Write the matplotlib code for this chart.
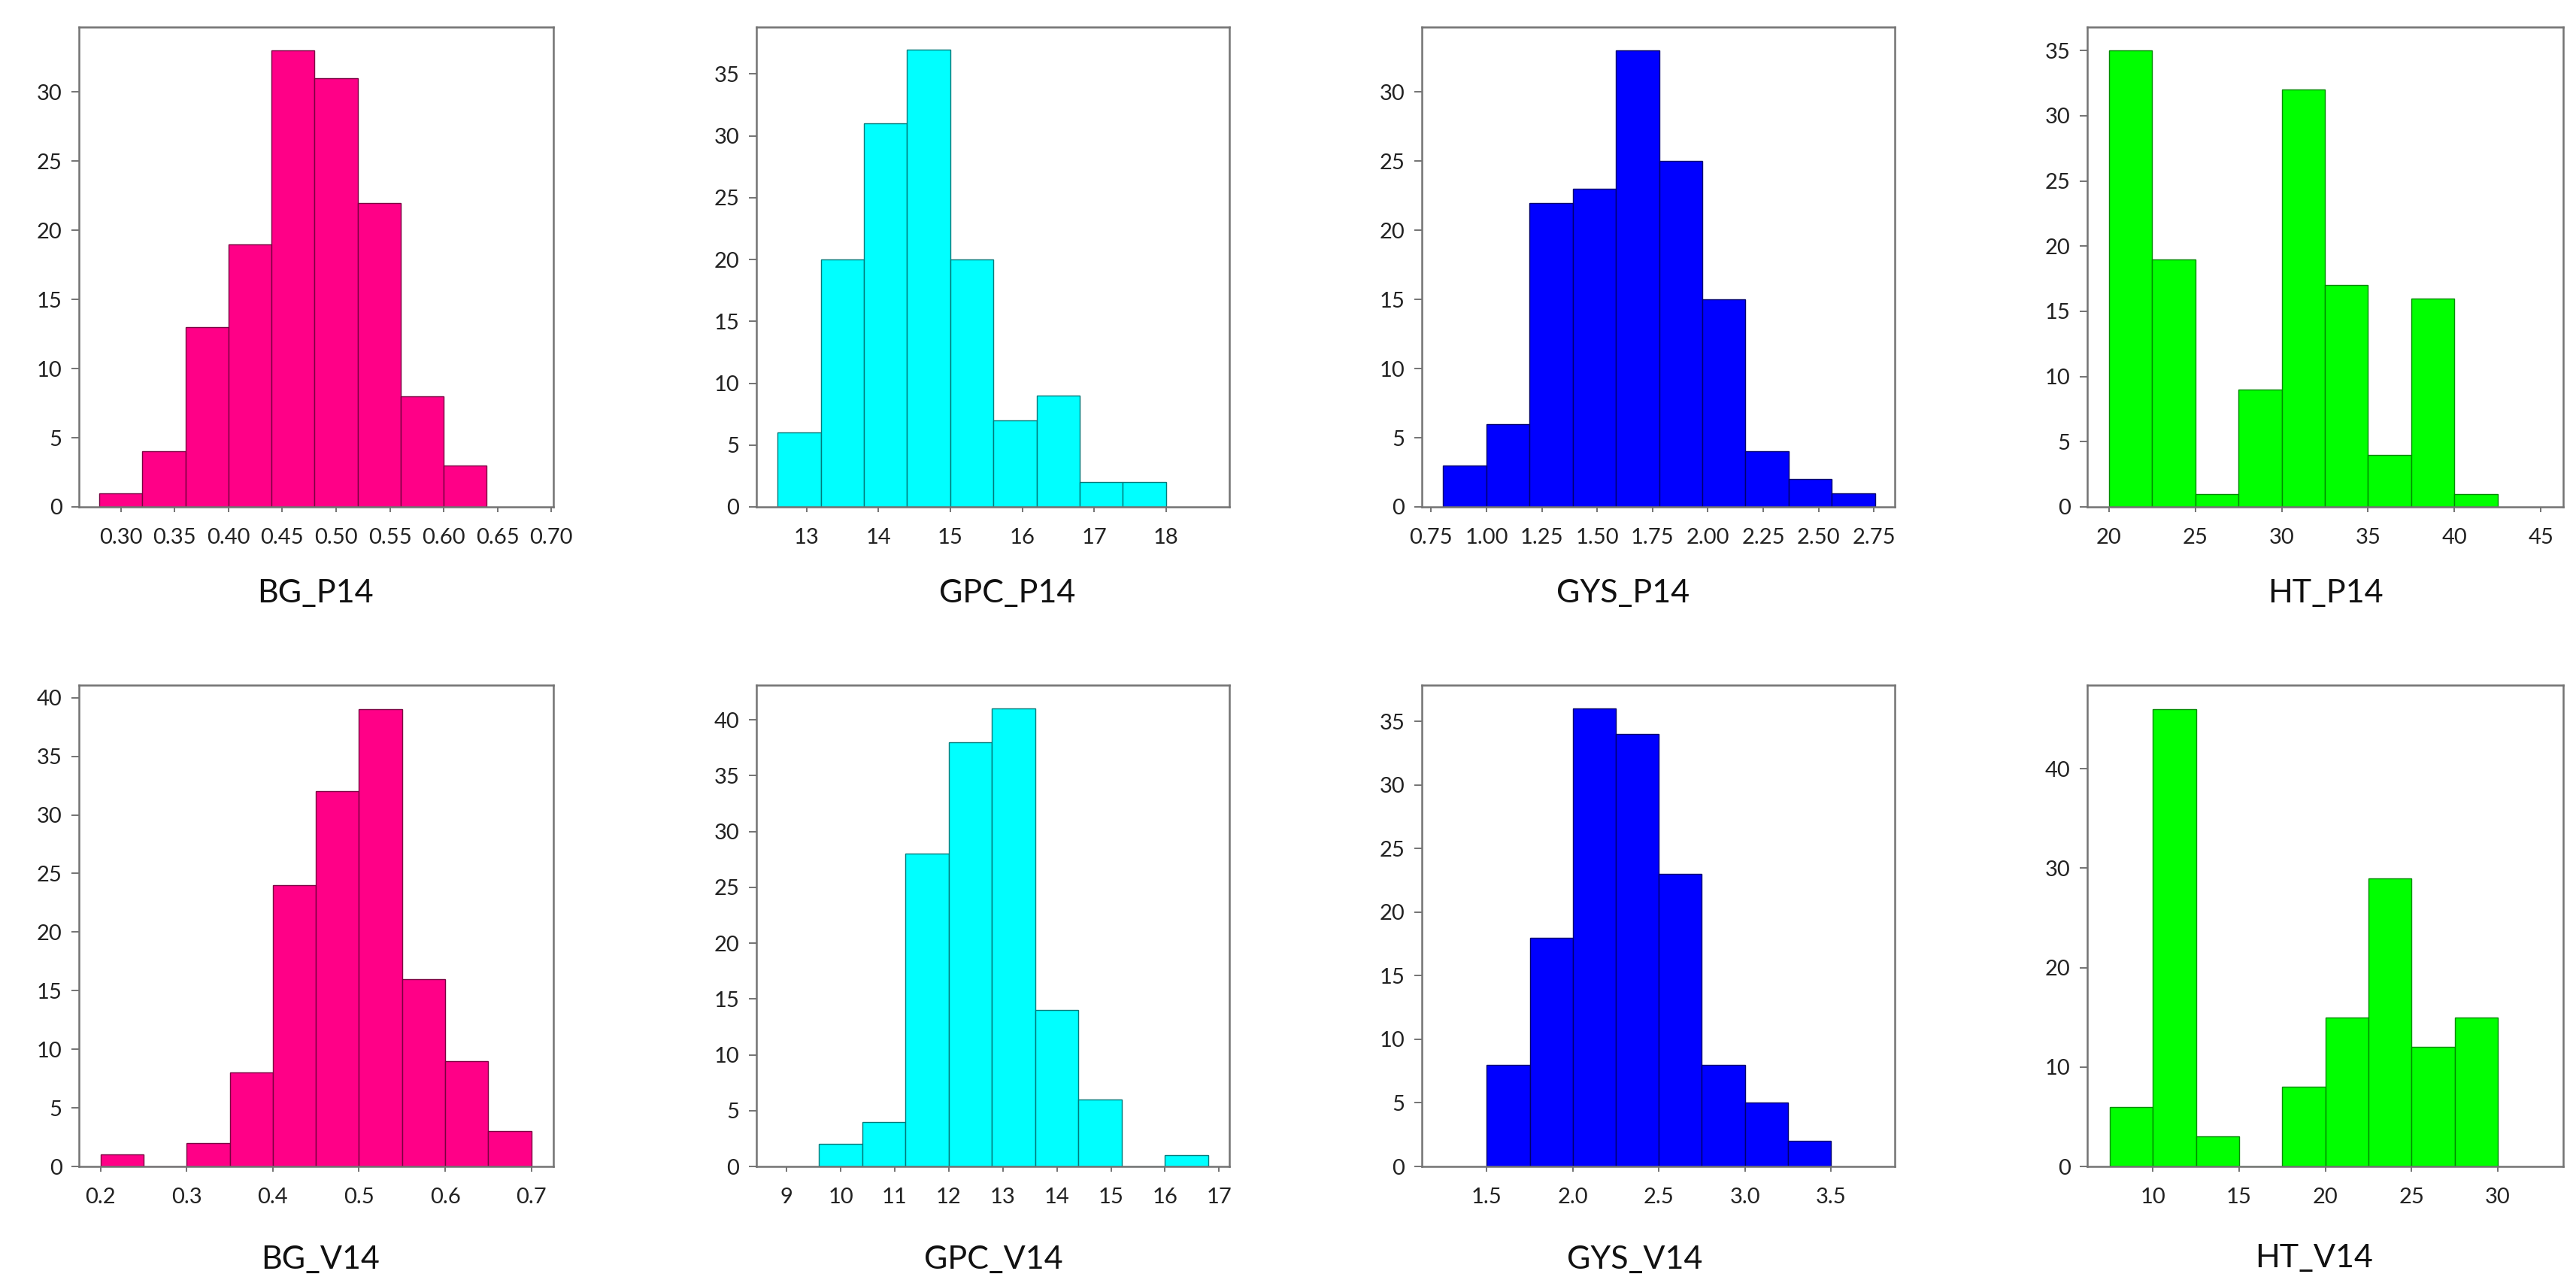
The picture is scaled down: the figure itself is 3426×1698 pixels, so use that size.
import numpy as np
import matplotlib
matplotlib.use("Agg")
import matplotlib.pyplot as plt

plt.rcParams['font.family'] = ['Lato', 'DejaVu Sans']

# ---------------- data (bin edges and counts) ----------------
titles = ["BG_P14", "GPC_P14", "GYS_P14", "HT_P14",
          "BG_V14", "GPC_V14", "GYS_V14", "HT_V14"]

bg_p14_edges = [0.28, 0.32, 0.36, 0.40, 0.44, 0.48, 0.52, 0.56, 0.60, 0.64]
bg_p14_counts = [1, 4, 13, 19, 33, 31, 22, 8, 3]

gpc_p14_edges = [12.6, 13.2, 13.8, 14.4, 15.0, 15.6, 16.2, 16.8, 17.4, 18.0]
gpc_p14_counts = [6, 20, 31, 37, 20, 7, 9, 2, 2]

gys_p14_edges = [0.805, 1.0, 1.195, 1.39, 1.585, 1.78, 1.975, 2.17, 2.365, 2.56, 2.755]
gys_p14_counts = [3, 6, 22, 23, 33, 25, 15, 4, 2, 1]

ht_p14_edges = [20.0, 22.5, 25.0, 27.5, 30.0, 32.5, 35.0, 37.5, 40.0, 42.5]
ht_p14_counts = [35, 19, 1, 9, 32, 17, 4, 16, 1]

bg_v14_edges = [0.20, 0.25, 0.30, 0.35, 0.40, 0.45, 0.50, 0.55, 0.60, 0.65, 0.70]
bg_v14_counts = [1, 0, 2, 8, 24, 32, 39, 16, 9, 3]

gpc_v14_edges = [9.6, 10.4, 11.2, 12.0, 12.8, 13.6, 14.4, 15.2, 16.0, 16.8]
gpc_v14_counts = [2, 4, 28, 38, 41, 14, 6, 0, 1]

gys_v14_edges = [1.5, 1.75, 2.0, 2.25, 2.5, 2.75, 3.0, 3.25, 3.5]
gys_v14_counts = [8, 18, 36, 34, 23, 8, 5, 2]

ht_v14_edges = [7.5, 10.0, 12.5, 15.0, 17.5, 20.0, 22.5, 25.0, 27.5, 30.0]
ht_v14_counts = [6, 46, 3, 0, 8, 15, 29, 12, 15]

# tick labels
bg_p14_xticks = ["0.30", "0.35", "0.40", "0.45", "0.50", "0.55", "0.60", "0.65", "0.70"]
gpc_p14_xticks = ["13", "14", "15", "16", "17", "18"]
gys_p14_xticks = ["0.75", "1.00", "1.25", "1.50", "1.75", "2.00", "2.25", "2.50", "2.75"]
ht_p14_xticks = ["20", "25", "30", "35", "40", "45"]
bg_v14_xticks = ["0.2", "0.3", "0.4", "0.5", "0.6", "0.7"]
gpc_v14_xticks = ["9", "10", "11", "12", "13", "14", "15", "16", "17"]
gys_v14_xticks = ["1.5", "2.0", "2.5", "3.0", "3.5"]
ht_v14_xticks = ["10", "15", "20", "25", "30"]

p14_yticks = [0, 5, 10, 15, 20, 25, 30]
gpc_p14_yticks = [0, 5, 10, 15, 20, 25, 30, 35]
ht_p14_yticks = [0, 5, 10, 15, 20, 25, 30, 35]
bg_v14_yticks = [0, 5, 10, 15, 20, 25, 30, 35, 40]
gpc_v14_yticks = [0, 5, 10, 15, 20, 25, 30, 35, 40]
gys_v14_yticks = [0, 5, 10, 15, 20, 25, 30, 35]
ht_v14_yticks = [0, 10, 20, 30, 40]

# ---------------- layout / style ----------------
W, H = 3426, 1698
fig = plt.figure(figsize=(W / 100, H / 100), dpi=100)

colors = {
    "BG": ("#FF0087", "#7a0040"),
    "GPC": ("#00FFFF", "#007a7a"),
    "GYS": ("#0000FF", "#00006e"),
    "HT": ("#00FF00", "#008a00"),
}

# (left, right, top, bottom) in pixels
col_px = [(105, 736), (1005.6, 1635), (1890.6, 2520), (2776, 3409)]
row_px = [(36, 674), (911, 1551)]

panels = [
    (bg_p14_edges, bg_p14_counts, bg_p14_xticks, p14_yticks, (0.261, 0.702), 34.7),
    (gpc_p14_edges, gpc_p14_counts, gpc_p14_xticks, gpc_p14_yticks, (12.30, 18.88), 38.8),
    (gys_p14_edges, gys_p14_counts, gys_p14_xticks, p14_yticks, (0.707, 2.844), 34.7),
    (ht_p14_edges, ht_p14_counts, ht_p14_xticks, ht_p14_yticks, (18.74, 46.3), 36.8),
    (bg_v14_edges, bg_v14_counts, bg_v14_xticks, bg_v14_yticks, (0.175, 0.7256), 41.07),
    (gpc_v14_edges, gpc_v14_counts, gpc_v14_xticks, gpc_v14_yticks, (8.436, 17.19), 43.1),
    (gys_v14_edges, gys_v14_counts, gys_v14_xticks, gys_v14_yticks, (1.121, 3.871), 37.86),
    (ht_v14_edges, ht_v14_counts, ht_v14_xticks, ht_v14_yticks, (6.19, 33.8), 48.4),
]

title_pos = [(419, 789), (1340, 789), (2159, 789), (3093, 789),
             (426, 1675), (1321, 1675), (2174, 1675), (3078, 1673)]

frame_col = "#737373"

for i, (edges, counts, xt, yt, xlim, ytop) in enumerate(panels):
    r, c = divmod(i, 4)
    l, rr = col_px[c]
    t, b = row_px[r]
    ax = fig.add_axes([l / W, 1 - b / H, (rr - l) / W, (b - t) / H])
    name = titles[i]
    fc, ec = colors[name.split("_")[0]]
    e = np.array(edges)
    ax.bar(e[:-1], counts, width=np.diff(e), align="edge",
           color=fc, edgecolor=ec, linewidth=1.0)
    ax.set_xlim(*xlim)
    ax.set_ylim(0, ytop)
    ax.set_xticks([float(s) for s in xt])
    ax.set_xticklabels(xt)
    ax.set_yticks(yt)
    ax.set_yticklabels([str(v) for v in yt])
    for sp in ax.spines.values():
        sp.set_color(frame_col)
        sp.set_linewidth(1.8)
    ax.tick_params(axis="x", direction="out", length=5, width=1.4, color=frame_col,
                   labelsize=21, pad=15, labelcolor="#222222")
    ax.tick_params(axis="y", direction="out", length=7, width=1.4, color=frame_col,
                   labelsize=21, pad=9, labelcolor="#222222")
    tx, ty = title_pos[i]
    fig.text(tx / W, 1 - ty / H, name, ha="center", va="center",
             fontsize=31, color="#111111")

fig.savefig("out.png", dpi=100, facecolor="white")
